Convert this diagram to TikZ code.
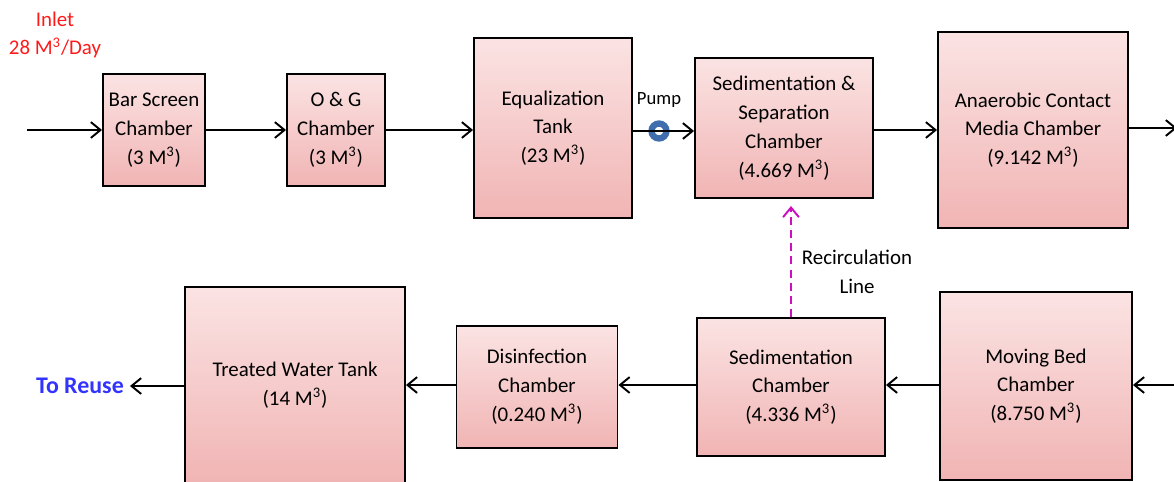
\documentclass[tikz,border=0pt]{standalone}
\usepackage{fontspec}
\setmainfont{Carlito}
\usetikzlibrary{arrows.meta}
\definecolor{boxtop}{HTML}{FBE3E3}
\definecolor{boxbot}{HTML}{F1B4B4}
\definecolor{inletred}{HTML}{FF1A1A}
\definecolor{reuseblue}{HTML}{3333FF}
\definecolor{recirc}{HTML}{CC10C0}
\definecolor{pumpblue}{HTML}{3F6DAE}

\begin{document}
\begin{tikzpicture}[x=0.02cm, y=-0.02cm,
    chamber/.style ={rectangle, draw, line width=1.1pt, top color=boxtop, bottom color=boxbot,
      align=center, inner sep=2pt, font=\fontsize{11.9}{16.4}\selectfont},
    flow/.style ={line width=1.1pt, -{Straight Barb[length=5.5pt,width=9pt]}}]
   \useasboundingbox (0,0) rectangle (1174,481);

   % top row
   \node[chamber, minimum width=2.04cm, minimum height=2.24cm] (bar) at (154,130) {Bar Screen\\Chamber\\(3 M\textsuperscript{3})};
   \node[chamber, minimum width=1.96cm, minimum height=2.24cm] (og) at (336,130) {O \& G\\Chamber\\(3 M\textsuperscript{3})};
   \node[chamber, minimum width=3.16cm, minimum height=3.6cm] (eq) at (553,128) {Equalization\\Tank\\(23 M\textsuperscript{3})};
   \node[chamber, minimum width=3.56cm, minimum height=2.8cm] (sep) at (784,128) {Sedimentation \&\\Separation\\Chamber\\(4.669 M\textsuperscript{3})};
   \node[chamber, minimum width=3.8cm, minimum height=3.92cm] (ana) at (1033,130) {Anaerobic Contact\\Media Chamber\\(9.142 M\textsuperscript{3})};

   % bottom row
   \node[chamber, minimum width=3.84cm, minimum height=3.76cm] (mbed) at (1036,386) {Moving Bed\\Chamber\\(8.750 M\textsuperscript{3})};
   \node[chamber, minimum width=3.76cm, minimum height=2.76cm] (sed) at (791,387) {Sedimentation\\Chamber\\(4.336 M\textsuperscript{3})};
   \node[chamber, minimum width=3.22cm, minimum height=2.44cm] (dis) at (537,387) {Disinfection\\Chamber\\(0.240 M\textsuperscript{3})};
   \node[chamber, minimum width=4.4cm, minimum height=3.92cm] (tank) at (295,385) {Treated Water Tank\\(14 M\textsuperscript{3})};

   % texts
   \node[text=inletred, align=center, font=\fontsize{11.9}{16.4}\selectfont] (inlet) at (55,35) {Inlet\\28 M\textsuperscript{3}/Day};
   \node[text=reuseblue, font=\fontsize{13.6}{16}\selectfont\bfseries] (reuse) at (80,386) {To Reuse};
   \node[align=center, font=\fontsize{11.9}{16.4}\selectfont] (rline) at (857,272) {Recirculation\\Line};
   \node[circle, draw=pumpblue, line width=3.6pt, minimum size=0.3cm, inner sep=0pt,
     label={[font=\fontsize{10.6}{12}\selectfont, yshift=4pt]90:Pump}] (pump) at (659,131) {};

   \coordinate (in) at (27,130);
   \coordinate (out) at (1177,128);
   \coordinate (back) at (1177,385);

   \draw[flow] (in) to (bar);
   \draw[flow] (bar) to (og);
   \draw[flow] (og) to (og -| eq.west);
   \draw[flow] (eq.east |- pump) to (sep.west |- pump);
   \draw[flow] (sep.east |- ana) to (ana);
   \draw[flow] (ana.east |- out) to (out);
   \draw[flow] (back) to (mbed.east |- back);
   \draw[flow] (mbed.west |- back) to (sed.east |- back);
   \draw[flow] (sed.west |- back) to (dis.east |- back);
   \draw[flow] (dis.west |- back) to (tank.east |- back);
   \draw[flow] (tank.west |- reuse) to (reuse);
   \draw[flow, recirc, dash pattern=on 4.5pt off 3pt, shorten >=4pt] (sed.north) to (sed.north |- sep.south);
 \end{tikzpicture}
\end{document}
